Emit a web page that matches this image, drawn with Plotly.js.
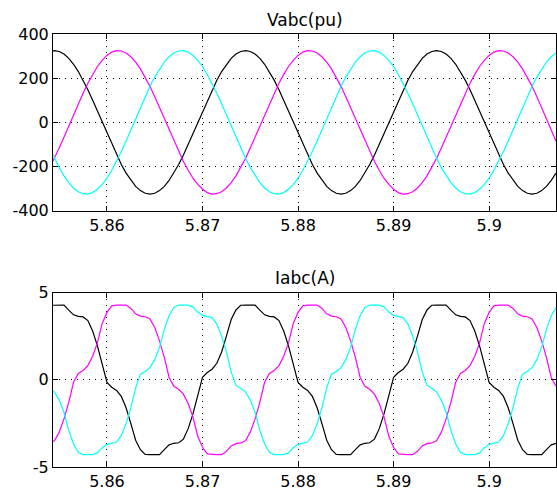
<!DOCTYPE html>
<html>
<head>
<meta charset="utf-8">
<script src="https://cdn.plot.ly/plotly-3.0.1.min.js"></script>
<style>
  html, body { margin: 0; padding: 0; background: #ffffff; }
  #chart { width: 557px; height: 491px; }
</style>
</head>
<body>
<div id="chart"></div>
<script>
// time base (s)
var time = [5.854, 5.8545, 5.855, 5.8555, 5.856, 5.8565, 5.857, 5.8575, 5.858, 5.8585,
  5.859, 5.8595, 5.86, 5.8605, 5.861, 5.8615, 5.862, 5.8625, 5.863, 5.8635,
  5.864, 5.8645, 5.865, 5.8655, 5.866, 5.8665, 5.867, 5.8675, 5.868, 5.8685,
  5.869, 5.8695, 5.87, 5.8705, 5.871, 5.8715, 5.872, 5.8725, 5.873, 5.8735,
  5.874, 5.8745, 5.875, 5.8755, 5.876, 5.8765, 5.877, 5.8775, 5.878, 5.8785,
  5.879, 5.8795, 5.88, 5.8805, 5.881, 5.8815, 5.882, 5.8825, 5.883, 5.8835,
  5.884, 5.8845, 5.885, 5.8855, 5.886, 5.8865, 5.887, 5.8875, 5.888, 5.8885,
  5.889, 5.8895, 5.89, 5.8905, 5.891, 5.8915, 5.892, 5.8925, 5.893, 5.8935,
  5.894, 5.8945, 5.895, 5.8955, 5.896, 5.8965, 5.897, 5.8975, 5.898, 5.8985,
  5.899, 5.8995, 5.9, 5.9005, 5.901, 5.9015, 5.902, 5.9025, 5.903, 5.9035,
  5.904, 5.9045, 5.905, 5.9055, 5.906, 5.9065, 5.907];

// Vabc (pu) phases
var voltageA = [321,325,321,309,290,263,230,191,148,100,51,0,-51,-100,-148,-191,-230,-263,-290,-309,-321,-325,-321,-309,-290,-263,-230,-191,-148,-100,-51,0,51,100,148,191,230,263,290,309,
  321,325,321,309,290,263,230,191,148,100,51,0,-51,-100,-148,-191,-230,-263,-290,-309,-321,-325,-321,-309,-290,-263,-230,-191,-148,-100,-51,0,51,100,148,191,230,263,290,309,
  321,325,321,309,290,263,230,191,148,100,51,0,-51,-100,-148,-191,-230,-263,-290,-309,-321,-325,-321,-309,-290,-263,-230];
var voltageB = [-205,-163,-116,-68,-17,34,84,132,177,217,253,281,303,318,325,323,314,297,273,242,205,163,116,68,17,-34,-84,-132,-177,-217,-253,-281,-303,-318,-325,-323,-314,-297,-273,-242,
  -205,-163,-116,-68,-17,34,84,132,177,217,253,281,303,318,325,323,314,297,273,242,205,163,116,68,17,-34,-84,-132,-177,-217,-253,-281,-303,-318,-325,-323,-314,-297,-273,-242,
  -205,-163,-116,-68,-17,34,84,132,177,217,253,281,303,318,325,323,314,297,273,242,205,163,116,68,17,-34,-84];
var voltageC = [-116,-163,-205,-242,-273,-297,-314,-323,-325,-318,-303,-281,-253,-217,-177,-132,-84,-34,17,68,116,163,205,242,273,297,314,323,325,318,303,281,253,217,177,132,84,34,-17,-68,
  -116,-163,-205,-242,-273,-297,-314,-323,-325,-318,-303,-281,-253,-217,-177,-132,-84,-34,17,68,116,163,205,242,273,297,314,323,325,318,303,281,253,217,177,132,84,34,-17,-68,
  -116,-163,-205,-242,-273,-297,-314,-323,-325,-318,-303,-281,-253,-217,-177,-132,-84,-34,17,68,116,163,205,242,273,297,314];

// Iabc (A) phases
var currentA = [4.28,4.29,4.29,4.29,4.0,3.73,3.64,3.61,3.4,2.8,1.95,0.88,-0.15,-0.42,-0.61,-0.95,-1.6,-2.51,-3.46,-4.01,-4.28,-4.29,-4.29,-4.29,-4.0,-3.73,-3.64,-3.61,-3.4,-2.8,-1.95,-0.88,0.15,0.42,0.61,0.95,1.6,2.51,3.46,4.01,
  4.28,4.29,4.29,4.29,4.0,3.73,3.64,3.61,3.4,2.8,1.95,0.88,-0.15,-0.42,-0.61,-0.95,-1.6,-2.51,-3.46,-4.01,-4.28,-4.29,-4.29,-4.29,-4.0,-3.73,-3.64,-3.61,-3.4,-2.8,-1.95,-0.88,0.15,0.42,0.61,0.95,1.6,2.51,3.46,4.01,
  4.28,4.29,4.29,4.29,4.0,3.73,3.64,3.61,3.4,2.8,1.95,0.88,-0.15,-0.42,-0.61,-0.95,-1.6,-2.51,-3.46,-4.01,-4.28,-4.29,-4.29,-4.29,-4.0,-3.73,-3.64];
var currentB = [-3.62,-3.49,-3.0,-2.24,-1.29,-0.14,0.37,0.54,0.82,1.36,2.12,3.24,3.87,4.25,4.29,4.29,4.29,4.10,3.79,3.66,3.62,3.49,3.0,2.24,1.29,0.14,-0.37,-0.54,-0.82,-1.36,-2.12,-3.24,-3.87,-4.25,-4.29,-4.29,-4.29,-4.10,-3.79,-3.66,
  -3.62,-3.49,-3.0,-2.24,-1.29,-0.14,0.37,0.54,0.82,1.36,2.12,3.24,3.87,4.25,4.29,4.29,4.29,4.10,3.79,3.66,3.62,3.49,3.0,2.24,1.29,0.14,-0.37,-0.54,-0.82,-1.36,-2.12,-3.24,-3.87,-4.25,-4.29,-4.29,-4.29,-4.10,-3.79,-3.66,
  -3.62,-3.49,-3.0,-2.24,-1.29,-0.14,0.37,0.54,0.82,1.36,2.12,3.24,3.87,4.25,4.29,4.29,4.29,4.10,3.79,3.66,3.62,3.49,3.0,2.24,1.29,0.14,-0.37];
var currentC = [-0.48,-0.70,-1.16,-1.86,-2.90,-3.68,-4.15,-4.29,-4.29,-4.29,-4.19,-3.89,-3.70,-3.63,-3.57,-3.2,-2.51,-1.61,-0.46,0.32,0.48,0.70,1.16,1.86,2.90,3.68,4.15,4.29,4.29,4.29,4.19,3.89,3.70,3.63,3.57,3.2,2.51,1.61,0.46,-0.32,
  -0.48,-0.70,-1.16,-1.86,-2.90,-3.68,-4.15,-4.29,-4.29,-4.29,-4.19,-3.89,-3.70,-3.63,-3.57,-3.2,-2.51,-1.61,-0.46,0.32,0.48,0.70,1.16,1.86,2.90,3.68,4.15,4.29,4.29,4.29,4.19,3.89,3.70,3.63,3.57,3.2,2.51,1.61,0.46,-0.32,
  -0.48,-0.70,-1.16,-1.86,-2.90,-3.68,-4.15,-4.29,-4.29,-4.29,-4.19,-3.89,-3.70,-3.63,-3.57,-3.2,-2.51,-1.61,-0.46,0.32,0.48,0.70,1.16,1.86,2.90,3.68,4.15];

// ticks and titles
var xTickVals = [5.86, 5.87, 5.88, 5.89, 5.9];
var xTickText = ['5.86', '5.87', '5.88', '5.89', '5.9'];
var vTickVals = [-400, -200, 0, 200, 400];
var vTickText = ['-400', '-200', '0', '200', '400'];
var iTickVals = [-5, 0, 5];
var iTickText = ['-5', '0', '5'];
var topTitle = 'Vabc(pu)';
var bottomTitle = 'Iabc(A)';
var phaseColors = ['#000000', '#ff00ff', '#00ffff'];

var xRange = [5.85435, 5.907];

function mk(y, color, xa, ya) {
  return { x: time, y: y, type: 'scatter', mode: 'lines', xaxis: xa, yaxis: ya,
    line: { color: color, width: 1.2 }, hoverinfo: 'skip' };
}

var data = [
  mk(voltageA, phaseColors[0], 'x', 'y'),
  mk(voltageB, phaseColors[1], 'x', 'y'),
  mk(voltageC, phaseColors[2], 'x', 'y'),
  mk(currentA, phaseColors[0], 'x2', 'y2'),
  mk(currentB, phaseColors[1], 'x2', 'y2'),
  mk(currentC, phaseColors[2], 'x2', 'y2')
];

var FONT = 'DejaVu Sans, Liberation Sans, Arial, sans-serif';

function axisBase() {
  return {
    showline: true, linecolor: '#000000', linewidth: 1, mirror: 'ticks',
    ticks: 'inside', ticklen: 5, tickwidth: 1, tickcolor: '#000000',
    showgrid: true, gridcolor: '#000000', gridwidth: 1, griddash: '1px,5px',
    zeroline: false, fixedrange: true,
    tickfont: { family: FONT, size: 16, color: '#000000' }
  };
}

var xa = Object.assign(axisBase(), { domain: [0, 1], anchor: 'y', range: xRange,
  tickmode: 'array', tickvals: xTickVals, ticktext: xTickText });
var ya = Object.assign(axisBase(), { domain: [0.5919, 1], anchor: 'x', range: [-400, 400],
  tickmode: 'array', tickvals: vTickVals, ticktext: vTickText });
var xa2 = Object.assign(axisBase(), { domain: [0, 1], anchor: 'y2', range: xRange,
  tickmode: 'array', tickvals: xTickVals, ticktext: xTickText });
var ya2 = Object.assign(axisBase(), { domain: [0, 0.4025], anchor: 'x2', range: [-5, 5],
  tickmode: 'array', tickvals: iTickVals, ticktext: iTickText });

var layout = {
  width: 557, height: 491,
  margin: { l: 53, r: 1, t: 34, b: 24, pad: 0 },
  paper_bgcolor: '#ffffff', plot_bgcolor: '#ffffff',
  showlegend: false,
  font: { family: FONT, size: 16, color: '#000000' },
  xaxis: xa, yaxis: ya, xaxis2: xa2, yaxis2: ya2,
  annotations: [
    { text: topTitle, xref: 'paper', yref: 'paper', x: 0.5, y: 1, xanchor: 'center', yanchor: 'bottom',
      yshift: 2, showarrow: false, font: { family: FONT, size: 17, color: '#000000' } },
    { text: bottomTitle, xref: 'paper', yref: 'paper', x: 0.5, y: 0.4025, xanchor: 'center', yanchor: 'bottom',
      yshift: 3, showarrow: false, font: { family: FONT, size: 17, color: '#000000' } }
  ]
};

Plotly.newPlot('chart', data, layout, { displayModeBar: false, staticPlot: true });
</script>
</body>
</html>
